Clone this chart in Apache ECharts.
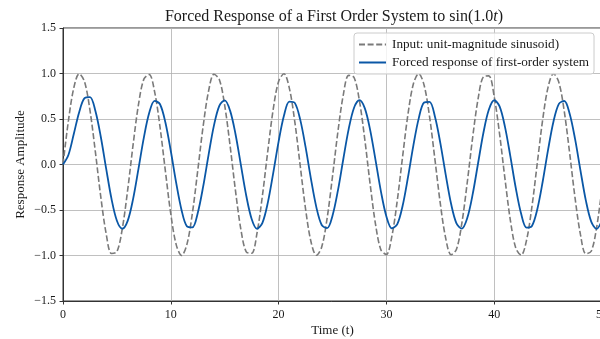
<!DOCTYPE html>
<html>
<head>
<meta charset="utf-8">
<script src="https://cdn.jsdelivr.net/npm/echarts@6/dist/echarts.min.js"></script>
<style>
  html, body { margin: 0; padding: 0; background: #ffffff; }
  #chart { width: 600px; height: 339px; }
</style>
</head>
<body>
<div id="chart"></div>
<script>
// Sample instants (s)
const time = [
  0, 0.5, 1, 1.5, 2, 2.5, 3, 3.5, 4, 4.5, 5, 5.5, 6, 6.5, 7, 7.5, 8, 8.5, 9, 9.5,
  10, 10.5, 11, 11.5, 12, 12.5, 13, 13.5, 14, 14.5, 15, 15.5, 16, 16.5, 17, 17.5, 18, 18.5, 19, 19.5,
  20, 20.5, 21, 21.5, 22, 22.5, 23, 23.5, 24, 24.5, 25, 25.5, 26, 26.5, 27, 27.5, 28, 28.5, 29, 29.5,
  30, 30.5, 31, 31.5, 32, 32.5, 33, 33.5, 34, 34.5, 35, 35.5, 36, 36.5, 37, 37.5, 38, 38.5, 39, 39.5,
  40, 40.5, 41, 41.5, 42, 42.5, 43, 43.5, 44, 44.5, 45, 45.5, 46, 46.5, 47, 47.5, 48, 48.5, 49, 49.5,
  50
];

// Input: unit-magnitude sinusoid
const inputSignal = [
  0, 0.479, 0.841, 0.997, 0.909, 0.598, 0.141, -0.351, -0.757, -0.978,
  -0.959, -0.706, -0.279, 0.215, 0.657, 0.938, 0.989, 0.798, 0.412, -0.075,
  -0.544, -0.880, -1.000, -0.875, -0.537, -0.066, 0.420, 0.804, 0.991, 0.935,
  0.650, 0.206, -0.288, -0.712, -0.961, -0.976, -0.751, -0.342, 0.150, 0.606,
  0.913, 0.997, 0.837, 0.472, -0.009, -0.487, -0.846, -0.998, -0.906, -0.591,
  -0.132, 0.359, 0.763, 0.979, 0.956, 0.699, 0.271, -0.224, -0.664, -0.941,
  -0.988, -0.793, -0.404, 0.084, 0.551, 0.884, 1.000, 0.871, 0.529, 0.057,
  -0.428, -0.809, -0.992, -0.932, -0.644, -0.198, 0.296, 0.718, 0.964, 0.974,
  0.745, 0.334, -0.159, -0.613, -0.917, -0.996, -0.832, -0.464, 0.018, 0.495,
  0.851, 0.999, 0.902, 0.584, 0.124, -0.367, -0.768, -0.981, -0.954, -0.693,
  -0.262
];

// Forced response of the first-order system
const forcedResponse = [
  0, 0.104, 0.335, 0.575, 0.730, 0.741, 0.590, 0.308, -0.042, -0.378,
  -0.618, -0.705, -0.619, -0.380, -0.048, 0.296, 0.568, 0.700, 0.662, 0.461,
  0.148, -0.202, -0.502, -0.679, -0.690, -0.532, -0.244, 0.104, 0.427, 0.645,
  0.705, 0.592, 0.335, -0.005, -0.343, -0.598, -0.706, -0.641, -0.419, -0.095,
  0.252, 0.538, 0.692, 0.677, 0.496, 0.193, -0.157, -0.468, -0.665, -0.699,
  -0.562, -0.287, 0.058, 0.389, 0.624, 0.707, 0.617, 0.375, 0.042, -0.301,
  -0.571, -0.701, -0.659, -0.456, -0.141, 0.208, 0.507, 0.681, 0.689, 0.528,
  0.238, -0.111, -0.432, -0.647, -0.704, -0.589, -0.329, 0.011, 0.349, 0.601,
  0.706, 0.638, 0.414, 0.089, -0.258, -0.542, -0.693, -0.675, -0.491, -0.187,
  0.163, 0.473, 0.667, 0.698, 0.558, 0.281, -0.064, -0.394, -0.627, -0.707,
  -0.614
];

const seriesNames = ['Input: unit-magnitude sinusoid)', 'Forced response of first-order system'];
const xRange = [0, 50];
const xStep = 10;
const yRange = [-1.5, 1.5];
const yStep = 0.5;

const FONT = "'Liberation Serif', 'DejaVu Serif', serif";
const INK = '#1a1a1a';
const SPINE = '#333333';
const GRAY = '#7a7a7a';
const BLUE = '#0a57a6';

const pairs = (ys) => time.map((t, i) => [t, ys[i]]);
const fmtNum = (v, d) => v.toFixed(d).replace('-', '\u2212');

const chart = echarts.init(document.getElementById('chart'), null, { renderer: 'canvas' });

chart.setOption({
  animation: false,
  backgroundColor: '#ffffff',
  title: {
    text: 'Forced Response of a First Order System to sin(1.0{i|t})',
    left: 329, top: 4, textAlign: 'center',
    textStyle: {
      fontFamily: FONT, fontSize: 16, fontWeight: 'normal', color: INK,
      rich: { i: { fontFamily: FONT, fontSize: 16, fontStyle: 'italic', color: INK } }
    }
  },
  grid: {
    left: 63, right: -2, top: 28, bottom: 38,
    containLabel: false, outerBoundsMode: 'none',
    show: true, borderColor: SPINE, borderWidth: 1, backgroundColor: 'transparent'
  },
  legend: {
    orient: 'vertical',
    left: 354, top: 33,
    padding: [5, 5, 5, 4],
    itemWidth: 27, itemHeight: 12, itemGap: 5,
    backgroundColor: 'rgba(255,255,255,0.8)',
    borderColor: '#cccccc', borderWidth: 1, borderRadius: 3,
    itemStyle: { color: 'rgba(0,0,0,0)', borderWidth: 0, opacity: 0 },
    textStyle: { fontFamily: FONT, fontSize: 13.2, color: INK, padding: [0, 0, 0, 1] },
    data: seriesNames
  },
  xAxis: {
    type: 'value', min: xRange[0], max: xRange[1], interval: xStep,
    name: 'Time (t)', nameLocation: 'middle', nameGap: 23, nameMoveOverlap: false,
    nameTextStyle: { fontFamily: FONT, fontSize: 13, color: INK },
    axisLine: { show: true, onZero: false, lineStyle: { color: SPINE, width: 1 } },
    axisTick: { show: true, length: 3.5, lineStyle: { color: SPINE } },
    axisLabel: { fontFamily: FONT, fontSize: 12, color: INK, margin: 8, formatter: (v) => fmtNum(v, 0) },
    splitLine: { show: true, lineStyle: { color: '#b0b0b0', width: 0.8 } }
  },
  yAxis: {
    type: 'value', min: yRange[0], max: yRange[1], interval: yStep,
    name: 'Response Amplitude', nameLocation: 'middle', nameGap: 36, nameRotate: 90,
    nameMoveOverlap: false,
    nameTextStyle: { fontFamily: FONT, fontSize: 13, color: INK },
    axisLine: { show: true, onZero: false, lineStyle: { color: SPINE, width: 1 } },
    axisTick: { show: true, length: 3.5, lineStyle: { color: SPINE } },
    axisLabel: { fontFamily: FONT, fontSize: 12, color: INK, margin: 7, formatter: (v) => fmtNum(v, 1) },
    splitLine: { show: true, lineStyle: { color: '#b0b0b0', width: 0.8 } }
  },
  series: [
    {
      name: seriesNames[0], type: 'line', data: pairs(inputSignal),
      showSymbol: false, symbol: 'none', smooth: 0.33,
      lineStyle: { color: GRAY, width: 1.6, type: [6, 2.6] },
      itemStyle: { color: GRAY }, z: 2
    },
    {
      name: seriesNames[1], type: 'line', data: pairs(forcedResponse),
      showSymbol: false, symbol: 'none', smooth: 0.33,
      lineStyle: { color: BLUE, width: 1.8 },
      itemStyle: { color: BLUE }, z: 3
    }
  ]
});
</script>
</body>
</html>
